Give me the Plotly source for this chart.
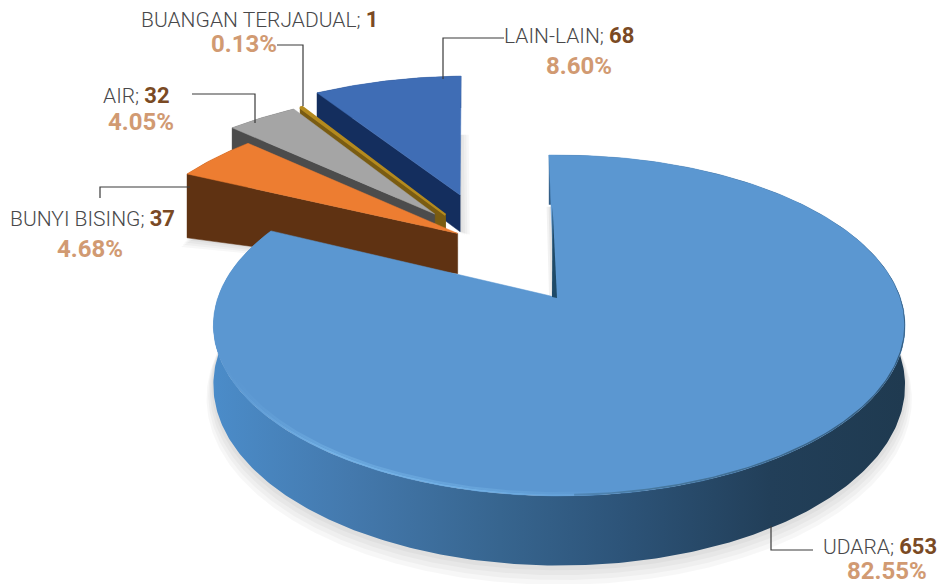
import math
import plotly.graph_objects as go

# ---- data ----
categories = ["UDARA", "BUNYI BISING", "AIR", "BUANGAN TERJADUAL", "LAIN-LAIN"]
values = [653, 37, 32, 1, 68]
percent_labels = ["82.55%", "4.68%", "4.05%", "0.13%", "8.60%"]

# ---- styling of each slice, same order as the categories ----
face_colors = ["#5b97d1", "#ed7d31", "#a5a5a5", "#b48a1e", "#3f6db5"]
wall_colors = [None, "#5f3212", "#4c4c4c", "#7a5c12", "#142e5e"]
explode_x = [0.0, -0.305, -0.385, -0.35, -0.31]
explode_y = [0.0, 0.41, 0.547, 0.54, 0.686]
radius_scale = [1.0, 1.025, 1.02, 1.045, 1.03]
rim_dx = [0.012, 0, 0, 0, -0.01]
depth_inner = [58, 43, 18, 17, 41]
depth_outer = [58, 73, 30, 30, 41]
draw_order = [4, 3, 2, 1, 0]

# ---- projection of the tilted pie onto the page ----
CX, CY, F, G, K = 555.0, 297.0, 341.0, 165.7, 0.167
START_DEG = -1.9


def proj(X, Y, z=0.0):
    d = 1 + K * Y
    return CX + F * X / d, CY - (G * Y - z) / d


def rim(i, a0, a1, z=0.0, r=1.0, n=None, dx=0.0, r1=None):
    n = n or max(4, int(abs(a1 - a0) * 1.5))
    r1 = r if r1 is None else r1
    pts = []
    for j in range(n + 1):
        t = j / n
        a = math.radians(a0 + (a1 - a0) * t)
        rr = r + (r1 - r) * t
        X = explode_x[i] + rim_dx[i] + dx + rr * radius_scale[i] * math.sin(a)
        Y = explode_y[i] + rr * radius_scale[i] * math.cos(a)
        pts.append(proj(X, Y, z))
    return pts


def poly(fig, pts, color=None, line=None, lw=0, gradient=None):
    xs = [p[0] for p in pts] + [pts[0][0]]
    ys = [p[1] for p in pts] + [pts[0][1]]
    kw = {}
    if gradient:
        kw["fillgradient"] = gradient
    else:
        kw["fillcolor"] = color
    fig.add_trace(go.Scatter(x=xs, y=ys, mode="lines", fill="toself", hoverinfo="skip",
                             line=dict(color=line or "rgba(0,0,0,0)", width=lw), showlegend=False, **kw))


total = sum(values)
angles = []
cur = START_DEG
for v in values:
    angles.append((cur, cur + 360 * v / total))
    cur += 360 * v / total

fig = go.Figure()


def hgrad(x0, x1, stops):
    return dict(type="horizontal", start=x0, stop=x1,
                colorscale=[[(x - x0) / (x1 - x0), c] for x, c in stops])


# soft shadows
SHADOW = "rgba(0,0,0,0.03)"
for s in (3, 6, 9, 12):
    poly(fig, rim(0, 60, 285, z=depth_outer[0] + s, r=1 + s * 0.0016) + rim(0, 285, 60, z=0), SHADOW)
    a0, a1 = angles[4]
    e = rim(4, a1, a1, r=0.47, n=1)[0]
    low = proj(explode_x[4], explode_y[4], depth_inner[4])
    poly(fig, [e, (e[0] + s * 0.8, e[1]), (low[0] + s * 0.8, low[1] + 3), low], SHADOW)
    a0, a1 = angles[1]
    poly(fig, rim(1, a0, a0 + 4, z=depth_outer[1] + s, r=1 + s * 0.002) +
         [proj(explode_x[1], explode_y[1], depth_inner[1])], SHADOW)
for s in (2, 4, 6):
    a0, a1 = angles[0]
    p_a = proj(0, 0, 0)
    p_m = rim(0, a0, a0, r=0.6, n=1)[0]
    poly(fig, [p_a, p_m, (p_m[0] - s, p_m[1]), (p_a[0] - s, p_a[1] - 2)], "rgba(0,0,0,0.05)")

for i in draw_order:
    a0, a1 = angles[i]
    apex = proj(explode_x[i], explode_y[i], 0)
    top = rim(i, a0, a1)
    if i == 0:
        wall = hgrad(213, 905, [(213, "#4b8cc9"), (350, "#4479ad"), (500, "#37658f"), (620, "#2d5479"),
                                (770, "#223f59"), (905, "#1f3a50")])
        poly(fig, top + rim(i, a1, a0, z=depth_outer[i]), gradient=wall)
    else:
        # outer wall, then the radial wall on the side facing the viewer
        bottom = rim(i, a1, a0, z=depth_outer[i])
        poly(fig, top + bottom, wall_colors[i])
        apex_low = proj(explode_x[i], explode_y[i], depth_inner[i])
        poly(fig, [apex, top[0], bottom[-1], apex_low], wall_colors[i], wall_colors[i], 0.5)
        if i == 3:
            poly(fig, [apex, top[-1], bottom[0], apex_low], wall_colors[i], wall_colors[i], 0.5)
    poly(fig, [apex] + top, face_colors[i], face_colors[i], 2.2 if i == 3 else 0.5)
    if i == 0:
        # soft bevel of the large slice: two thin graded bands
        poly(fig, rim(0, 165, 262, r=1.0) + rim(0, 262, 165, r=0.993),
             gradient=hgrad(225, 640, [(225, "#5b97d1"), (330, "#74b2e6"), (480, "#70afe4"), (640, "#5b97d1")]))
        poly(fig, rim(0, 172, 255, r=0.993) + rim(0, 255, 172, r=0.984),
             gradient=hgrad(235, 620, [(235, "#5b97d1"), (330, "#69a6dc"), (480, "#66a3da"), (620, "#5b97d1")]))
        # dark edge on the right, tapering to nothing at its upper end
        poly(fig, rim(0, 70, 178, r=1.0) + rim(0, 178, 70, r=0.992, r1=1.0),
             gradient=hgrad(500, 905, [(500, "#5b97d1"), (650, "#47789f"), (905, "#335a7c")]))
        # thin inner wall along the first radial edge
        p0 = proj(0, 0, 0)
        p1 = rim(0, a0, a0, r=0.6, n=1)[0]
        poly(fig, [p1, (p0[0] + 2, p0[1] + 1), (p0[0] - 3, p0[1])], "#1f4a68")

# ---- leader lines ----
leaders = [
    [(771, 526), (771, 550), (813, 550)],
    [(100, 198), (100, 187), (190, 187)],
    [(192, 94), (255, 94), (255, 123)],
    [(277, 45), (303, 45), (303, 106)],
    [(504, 38), (443, 38), (443, 79)],
]
for pts in leaders:
    path = "M" + " L".join(f"{x},{y}" for x, y in pts)
    fig.add_shape(type="path", path=path, line=dict(color="#3a3a3a", width=1.2))

# ---- labels ----
LABEL = "#48484a"
VALUE = "#7a4a24"
PCT = "#d19a72"
label_x = [821, 8, 101, 139, 502]
label_y = [546, 218, 95, 19, 35]
pct_x = [887, 90, 141, 244, 579]
pct_y = [571, 249, 122, 44, 66]
for i, name in enumerate(categories):
    fig.add_annotation(x=label_x[i], y=label_y[i], xanchor="left", yanchor="middle", showarrow=False,
                       text=f"{name}; <span style='color:{VALUE};font-size:22px'><b>{values[i]}</b></span>",
                       font=dict(family="Roboto", size=21, color=LABEL, weight=300))
    fig.add_annotation(x=pct_x[i], y=pct_y[i], xanchor="center", yanchor="middle", showarrow=False,
                       text=f"<b>{percent_labels[i]}</b>",
                       font=dict(family="Roboto", size=24, color=PCT))

fig.update_layout(
    width=942, height=584, margin=dict(l=0, r=0, t=0, b=0),
    paper_bgcolor="white", plot_bgcolor="white", showlegend=False,
    xaxis=dict(range=[0, 942], visible=False, fixedrange=True),
    yaxis=dict(range=[584, 0], visible=False, fixedrange=True),
)
fig.write_html("out.html", config={"displayModeBar": False},
               post_script="document.body.style.margin='0';document.documentElement.style.overflow='hidden';")
